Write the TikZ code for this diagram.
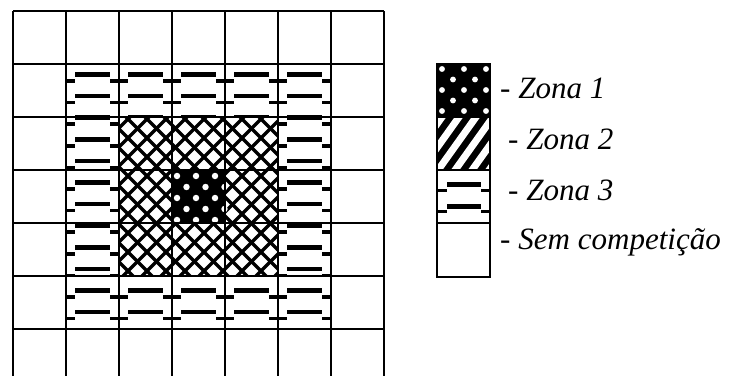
\documentclass[tikz,border=0pt]{standalone}
\usepackage{fontspec}
\setmainfont{Liberation Serif}
\usetikzlibrary{positioning}

\begin{document}
\begin{tikzpicture}[
    x=0.03cm, y=-0.03cm,
    gridline/.style={line width=1.8pt, draw=black},
    longbar/.style={line width=3.8pt, draw=black},
    shortbar/.style={line width=3pt, draw=black},
    hatch/.style={line width=2.9pt, draw=black},
    stripe/.style={line width=6pt, draw=white},
    hole/.style={circle, fill=white, inner sep=0pt, minimum size=5.5pt},
    legendtext/.style={font=\itshape\fontsize{26.5}{30}\selectfont, anchor=west, inner sep=0pt}
]
\useasboundingbox (0,0) rectangle (729,376);
\clip (0,0) rectangle (729,376);

% zona 3: bars in the outer ring of cells
\foreach \c/\r in {1/1,2/1,3/1,4/1,5/1,1/2,5/2,1/3,5/3,1/4,5/4,1/5,2/5,3/5,4/5,5/5} {
  \begin{scope}
    \clip (13+53*\c,11+53*\r) rectangle ++(53,53);
    \foreach \k in {0,...,12} {
      \draw[longbar] (22+53*\c,74.5+21.6*\k) -- ++(35,0);
      \draw[shortbar] (4+53*\c,81+21.6*\k) -- ++(18,0);
      \draw[shortbar] (57+53*\c,81+21.6*\k) -- ++(18,0);
    }
  \end{scope}
}

% zona 2: cross hatch in the inner 3x3 block
\begin{scope}
  \clip (119,117) rectangle (278,276);
  \foreach \a in {-100,-81,...,490} {
    \draw[hatch] (\a,100) -- ++(200,200);
    \draw[hatch] (\a,100) -- ++(-200,200);
  }
\end{scope}

% zona 1: centre cell
\fill[black] (172,170) rectangle (225,223);
\foreach \j in {0,...,4} {
  \foreach \i in {0,...,2} {
    \node[hole] (c\i\j) at ({177+19*\i+9.5*mod(\j,2)},{176+11*\j}) {};
  }
}

% grid
\foreach \i in {0,...,7} {
  \draw[gridline] (13+53*\i,11) -- (13+53*\i,382);
  \draw[gridline] (13,11+53*\i) -- (384,11+53*\i);
}

% legend
\fill[black] (437,64) rectangle (490,170);
\foreach \j in {0,...,4} {
  \foreach \i in {0,...,2} {
    \node[hole, minimum size=5pt] (l\i\j) at ({442+22*\i+11*mod(\j,2)},{69+10.5*\j}) {};
  }
}
\begin{scope}
  \clip (437,117) rectangle (490,170);
  \foreach \a in {380,397,...,520} {
    \draw[stripe] (\a,180) -- ++(50,-70);
  }
\end{scope}
\draw[longbar] (447,184.5) -- (481,184.5);
\draw[longbar] (447,206.5) -- (481,206.5);
\foreach \y in {190.5,211.5} {
  \draw[shortbar] (437,\y) -- (447,\y);
  \draw[shortbar] (481,\y) -- (490,\y);
}
\draw[gridline] (437,117) -- (490,117);
\draw[gridline] (437,170) -- (490,170);
\draw[gridline] (437,223) -- (490,223);
\draw[gridline] (437,64) rectangle (490,277);

\node[legendtext] (z1) at (500,88) {- Zona 1};
\node[legendtext] (z2) at (508,139) {- Zona 2};
\node[legendtext] (z3) at (508,190) {- Zona 3};
\node[legendtext] (z4) at (500,242) {- Sem competição};
\end{tikzpicture}
\end{document}
